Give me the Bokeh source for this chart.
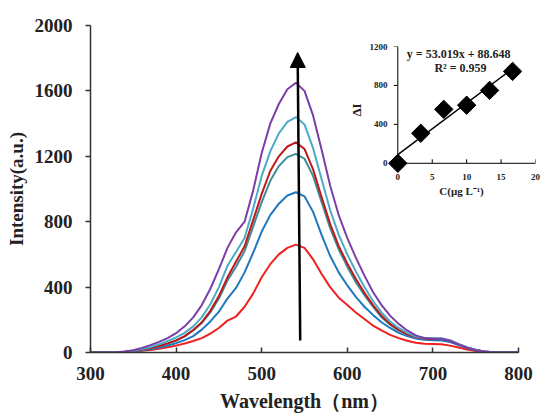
import numpy as np
from bokeh.plotting import figure
from bokeh.models import Range1d, FixedTicker, Arrow, NormalHead, Label
from bokeh.layouts import column
from bokeh.embed import file_html
from bokeh.resources import INLINE

wavelength = list(range(300, 801, 10))
red = [0, 0, 0, 0, 2, 5, 10, 16, 23, 32,
       42, 55, 70, 88, 115, 150, 195, 220, 280, 360,
       460, 540, 600, 640, 660, 640, 570, 480, 400, 335,
       290, 245, 205, 165, 135, 108, 88, 72, 60, 54,
       52, 50, 42, 30, 18, 9, 4, 1, 0, 0,
       0]
blue = [0, 0, 0, 1, 3, 7, 13, 21, 31, 43,
        57, 76, 100, 140, 190, 250, 330, 395, 490, 610,
        740, 840, 910, 960, 980, 955, 860, 720, 590, 490,
        410, 340, 280, 230, 185, 150, 120, 100, 86, 78,
        75, 74, 64, 45, 27, 13, 5, 1, 0, 0,
        0]
teal = [0, 0, 0, 1, 4, 9, 17, 27, 39, 54,
        72, 98, 135, 180, 245, 330, 440, 525, 620, 770,
        920, 1050, 1140, 1195, 1215, 1185, 1080, 920, 760, 630,
        525, 430, 350, 280, 215, 170, 135, 110, 92, 84,
        82, 81, 70, 50, 30, 15, 6, 2, 0, 0,
        0]
darkred = [0, 0, 0, 1, 4, 10, 18, 28, 40, 56,
           74, 100, 138, 185, 255, 345, 460, 555, 650, 810,
           970, 1110, 1200, 1260, 1285, 1245, 1120, 950, 785, 650,
           545, 450, 365, 290, 225, 175, 138, 112, 94, 86,
           83, 82, 71, 50, 30, 15, 6, 2, 0, 0,
           0]
cyan = [0, 0, 0, 1, 5, 11, 21, 34, 50, 70,
        92, 120, 160, 215, 295, 400, 530, 615, 700, 880,
        1080, 1230, 1340, 1410, 1440, 1395, 1250, 1060, 870, 720,
        600, 495, 400, 315, 245, 190, 150, 120, 98, 90,
        88, 87, 75, 53, 32, 16, 6, 2, 0, 0,
        0]
purple = [0, 0, 0, 2, 6, 14, 28, 45, 65, 88,
          118, 160, 215, 290, 390, 510, 640, 735, 800, 990,
          1220, 1400, 1520, 1610, 1650, 1600, 1450, 1240, 1020, 840,
          700, 580, 470, 370, 290, 225, 175, 135, 105, 88,
          84, 84, 72, 50, 30, 15, 6, 2, 0, 0,
          0]

x_ticks = [300, 400, 500, 600, 700, 800]
y_ticks = [0, 400, 800, 1200, 1600, 2000]

# inset data
conc = [0, 3.33, 6.67, 10, 13.33, 16.67]
delta_I = [0, 308, 554, 597, 749, 944]
slope = 53.019
intercept = 88.648
fit_x = [0, 17]
inset_x_ticks = [0, 5, 10, 15, 20]
inset_y_ticks = [0, 400, 800, 1200]

# arrow (annotation) endpoints in data units
arrow_start = (545, 73)
arrow_end = (542, 1835)

FONT = "Liberation Serif"

p = figure(width=536, height=416, x_range=Range1d(300, 800), y_range=Range1d(0, 2000),
           output_backend="svg", toolbar_location=None,
           min_border_left=90, min_border_right=18, min_border_top=25, min_border_bottom=64)
p.outline_line_color = None
p.grid.visible = False
p.background_fill_color = "white"
p.frame_align = False

series = [(red, "#F02020"), (blue, "#1F78C0"), (teal, "#3C8C9C"),
          (darkred, "#C01818"), (cyan, "#4BACC6"), (purple, "#7A3FA8")]
for ys, c in series:
    p.line(wavelength, ys, line_color=c, line_width=2)

p.add_layout(Arrow(end=NormalHead(size=15, fill_color="black", line_color="black"),
                   x_start=arrow_start[0], y_start=arrow_start[1],
                   x_end=arrow_end[0], y_end=arrow_end[1],
                   line_width=2.5, line_color="black"))

for ax in (p.xaxis[0], p.yaxis[0]):
    ax.axis_line_color = "#333333"
    ax.axis_line_width = 1.5
    ax.major_tick_line_color = "#333333"
    ax.major_tick_line_width = 1.5
    ax.minor_tick_line_color = None
    ax.major_label_text_font = FONT
    ax.major_label_text_font_style = "bold"
    ax.major_label_text_font_size = "19px"
    ax.major_label_text_color = "#222222"
    ax.axis_label_text_font = FONT
    ax.axis_label_text_font_style = "bold"
    ax.axis_label_text_font_size = "19px"
    ax.axis_label_text_color = "#222222"

p.xaxis.ticker = FixedTicker(ticks=x_ticks)
p.yaxis.ticker = FixedTicker(ticks=y_ticks)
p.xaxis.major_tick_in = 5
p.xaxis.major_tick_out = 0
p.xaxis.major_label_standoff = 14
p.xaxis.axis_label = "Wavelength（nm）"
p.xaxis.axis_label_text_font_size = "20px"
p.xaxis.axis_label_standoff = 7
p.yaxis.major_tick_in = 0
p.yaxis.major_tick_out = 5
p.yaxis.major_label_standoff = 13
p.yaxis.axis_label = "Intensity(a.u.)"
p.yaxis.axis_label_standoff = 5

# ---------------- inset ----------------
inset = figure(width=200, height=175, x_range=Range1d(-1.5, 20), y_range=Range1d(-105, 1200),
               output_backend="svg", toolbar_location=None,
               min_border_left=47, min_border_right=5, min_border_top=13, min_border_bottom=35,
               styles={"position": "absolute", "left": "340px", "top": "33px"})
inset.frame_align = False
inset.outline_line_color = None
inset.grid.visible = False
inset.background_fill_alpha = 0
inset.border_fill_alpha = 0

# axis lines and ticks through the origin (built from the tick arrays)
x0, x1 = inset_x_ticks[0], inset_x_ticks[-1]
y0, y1 = inset_y_ticks[0], inset_y_ticks[-1]
inset.line([x0, x1], [y0, y0], line_color="black", line_width=1)
inset.line([x0, x0], [y0, y1], line_color="black", line_width=1)
inset.ray(x=inset_x_ticks[1:], y=[y0] * (len(inset_x_ticks) - 1), length=4,
          length_units="screen", angle=np.pi / 2, line_color="black", line_width=1)
inset.ray(x=[x0] * len(inset_y_ticks), y=inset_y_ticks, length=4,
          length_units="screen", angle=np.pi, line_color="black", line_width=1)

inset.line(fit_x, [slope * v + intercept for v in fit_x], line_color="black", line_width=1.5)
inset.scatter(conc, delta_I, marker="square", size=13, angle=np.pi / 4,
              fill_color="black", line_color="black")

for ax in (inset.xaxis[0], inset.yaxis[0]):
    ax.axis_line_color = None
    ax.major_tick_line_color = None
    ax.minor_tick_line_color = None
    ax.major_tick_in = 0
    ax.major_tick_out = 0
    ax.major_label_text_font = FONT
    ax.major_label_text_font_style = "bold"
    ax.major_label_text_font_size = "9px"
    ax.major_label_text_color = "#222222"
    ax.axis_label_text_font = FONT
    ax.axis_label_text_font_style = "bold"
    ax.axis_label_text_color = "#222222"

inset.xaxis.ticker = FixedTicker(ticks=inset_x_ticks)
inset.yaxis.ticker = FixedTicker(ticks=inset_y_ticks)
inset.xaxis.major_label_standoff = 0
inset.xaxis.axis_label = "C(μg L⁻¹)"
inset.xaxis.axis_label_text_font_size = "11px"
inset.xaxis.axis_label_standoff = 2
inset.yaxis.major_label_standoff = 0
inset.yaxis.axis_label = "ΔI"
inset.yaxis.axis_label_text_font_size = "13px"
inset.yaxis.axis_label_standoff = 3

inset.add_layout(Label(x=8.84, y=1128, text="y = 53.019x + 88.648", text_align="center",
                       text_baseline="middle", text_font=FONT, text_font_style="bold",
                       text_font_size="12px", text_color="#222222"))
inset.add_layout(Label(x=9.1, y=974, text="R² = 0.959", text_align="center",
                       text_baseline="middle", text_font=FONT, text_font_style="bold",
                       text_font_size="12px", text_color="#222222"))

layout = column(p, inset, styles={"position": "relative"})

open("out.html", "w").write(file_html(layout, INLINE))
